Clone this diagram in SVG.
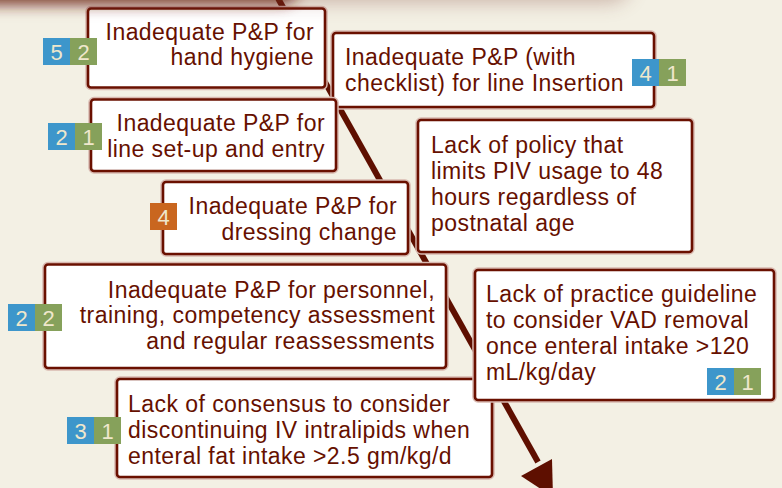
<svg xmlns="http://www.w3.org/2000/svg" width="782" height="488" viewBox="0 0 782 488">
<defs>
<style>
.box{fill:#ffffff;stroke:#6a1000;stroke-width:2.6}
.halo{fill:none;stroke:#d9b9b0;stroke-width:5.5}
.t{font-family:"Liberation Sans",Arial,sans-serif;font-size:23px;letter-spacing:0.45px;fill:#661000}
.r{text-anchor:end}
.b{fill:#3d96cb}
.g{fill:#86a15b}
.o{fill:#c9661f}
.d{font-family:"Liberation Sans",Arial,sans-serif;font-size:22px;fill:#efe7cc;text-anchor:middle}
</style>
<filter id="blur" x="-20%" y="-200%" width="140%" height="500%"><feGaussianBlur stdDeviation="7"/></filter>
<filter id="blur2" x="-20%" y="-200%" width="140%" height="500%"><feGaussianBlur stdDeviation="10"/></filter>
</defs>
<rect width="782" height="488" fill="#f3f0e4"/>
<g id="connectors">
<line x1="270" y1="-16" x2="538" y2="462" stroke="#5e0f00" stroke-width="6"/>
<polygon points="521,476 552,459 553,497" fill="#5e0f00"/>
</g>
<g id="n1">
<rect class="halo" x="88" y="8.5" width="237" height="79" rx="3"/>
<rect class="box" x="88" y="8.5" width="237" height="79" rx="3"/>
<text class="t r" x="314" y="40">Inadequate P&amp;P for</text>
<text class="t r" x="314" y="65">hand hygiene</text>
<rect class="b" x="43" y="38" width="27" height="27"/><rect class="g" x="70" y="38" width="27" height="27"/>
<text class="d" x="56.5" y="59.5">5</text><text class="d" x="83.5" y="59.5">2</text>
</g>
<g id="n2">
<rect class="halo" x="333" y="33" width="321" height="74" rx="3"/>
<rect class="box" x="333" y="33" width="321" height="74" rx="3"/>
<text class="t" x="345" y="65">Inadequate P&amp;P (with</text>
<text class="t" x="345" y="90.5">checklist) for line Insertion</text>
<rect class="b" x="632" y="59" width="27" height="27"/><rect class="g" x="659" y="59" width="27" height="27"/>
<text class="d" x="645.5" y="80.5">4</text><text class="d" x="672.5" y="80.5">1</text>
</g>
<g id="n3">
<rect class="halo" x="91" y="99.5" width="245" height="71.5" rx="3"/>
<rect class="box" x="91" y="99.5" width="245" height="71.5" rx="3"/>
<text class="t r" x="325" y="130.5">Inadequate P&amp;P for</text>
<text class="t r" x="325" y="156.5">line set-up and entry</text>
<rect class="b" x="48" y="123" width="27" height="27"/><rect class="g" x="75" y="123" width="27" height="27"/>
<text class="d" x="61.5" y="144.5">2</text><text class="d" x="88.5" y="144.5">1</text>
</g>
<g id="n4">
<rect class="halo" x="163" y="182" width="245" height="72" rx="3"/>
<rect class="box" x="163" y="182" width="245" height="72" rx="3"/>
<text class="t r" x="397" y="213.5">Inadequate P&amp;P for</text>
<text class="t r" x="397" y="239.5">dressing change</text>
<rect class="o" x="150" y="203" width="27" height="27"/>
<text class="d" x="163.5" y="224.5">4</text>
</g>
<g id="n5">
<rect class="halo" x="418" y="120" width="274" height="132" rx="3"/>
<rect class="box" x="418" y="120" width="274" height="132" rx="3"/>
<text class="t" x="431" y="152.5">Lack of policy that</text>
<text class="t" x="431" y="178.5">limits PIV usage to 48</text>
<text class="t" x="431" y="204.5">hours regardless of</text>
<text class="t" x="431" y="231">postnatal age</text>
</g>
<g id="n6">
<rect class="halo" x="45" y="264.5" width="401" height="103.5" rx="3"/>
<rect class="box" x="45" y="264.5" width="401" height="103.5" rx="3"/>
<text class="t r" x="435" y="297.5">Inadequate P&amp;P for personnel,</text>
<text class="t r" x="435" y="323">training, competency assessment</text>
<text class="t r" x="435" y="349">and regular reassessments</text>
<rect class="b" x="8" y="304" width="27" height="27"/><rect class="g" x="35" y="304" width="27" height="27"/>
<text class="d" x="21.5" y="325.5">2</text><text class="d" x="48.5" y="325.5">2</text>
</g>
<g id="n7">
<rect class="halo" x="117" y="379" width="375" height="98" rx="3"/>
<rect class="box" x="117" y="379" width="375" height="98" rx="3"/>
<text class="t" x="128" y="411.5">Lack of consensus to consider</text>
<text class="t" x="128" y="437.5">discontinuing IV intralipids when</text>
<text class="t" x="128" y="463.5">enteral fat intake &gt;2.5 gm/kg/d</text>
<rect class="b" x="67" y="417" width="27" height="27"/><rect class="g" x="94" y="417" width="27" height="27"/>
<text class="d" x="80.5" y="438.5">3</text><text class="d" x="107.5" y="438.5">1</text>
</g>
<g id="n8">
<rect class="halo" x="475" y="270" width="299" height="130" rx="3"/>
<rect class="box" x="475" y="270" width="299" height="130" rx="3"/>
<text class="t" x="486" y="301.5">Lack of practice guideline</text>
<text class="t" x="486" y="327.5">to consider VAD removal</text>
<text class="t" x="486" y="354">once enteral intake &gt;120</text>
<text class="t" x="486" y="380">mL/kg/day</text>
<rect class="b" x="707" y="368" width="27" height="27"/><rect class="g" x="734" y="368" width="27" height="27"/>
<text class="d" x="720.5" y="389.5">2</text><text class="d" x="747.5" y="389.5">1</text>
</g>
<g id="topshadow">
<rect x="-60" y="-60" width="690" height="62" rx="20" fill="#7a3a30" opacity="0.35" filter="url(#blur2)"/>
<rect x="-60" y="-50" width="360" height="54" rx="20" fill="#6a2018" opacity="0.8" filter="url(#blur)"/>
</g>
</svg>
